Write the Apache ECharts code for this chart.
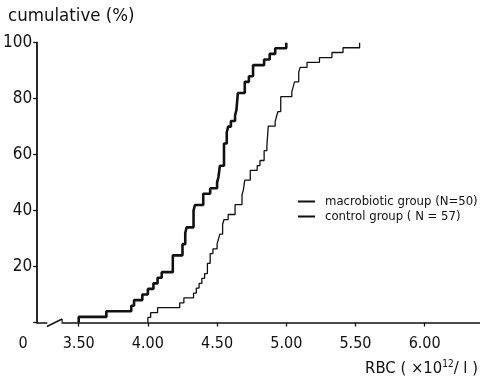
<!DOCTYPE html>
<html>
<head>
<meta charset="utf-8">
<script src="https://cdn.jsdelivr.net/npm/echarts@6/dist/echarts.min.js"></script>
<style>
  html, body { margin: 0; padding: 0; background: #fff; }
  #chart { width: 480px; height: 383px; }
</style>
</head>
<body>
<div id="chart"></div>
<script>
// Red blood cell counts (x10^12/l) at which each cumulative step occurs,
// with the cumulative percentage reached at that step.
const rbcMacro = [3.50, 3.70, 3.88, 3.90, 3.96, 4.00, 4.04, 4.07, 4.10, 4.18, 4.25, 4.27, 4.28,
  4.33, 4.34, 4.40, 4.45, 4.50, 4.51, 4.52, 4.55, 4.57, 4.58, 4.60, 4.63, 4.64, 4.65, 4.70,
  4.73, 4.76, 4.84, 4.88, 4.92, 5.00];
const cumMacro = [2, 4, 6, 8, 10, 12, 14, 16, 18, 24, 28, 32, 34,
  40, 42, 46, 48, 50, 52, 56, 64, 68, 70, 72, 74, 76, 82, 86,
  88, 92, 94, 96, 98, 100];

const rbcControl = [4.00, 4.02, 4.07, 4.23, 4.26, 4.33, 4.35, 4.37, 4.39, 4.41, 4.43, 4.45, 4.47,
  4.50, 4.51, 4.52, 4.54, 4.55, 4.58, 4.63, 4.68, 4.69, 4.70, 4.74, 4.79, 4.81, 4.84, 4.86,
  4.87, 4.92, 4.93, 4.94, 4.96, 5.04, 5.05, 5.06, 5.09, 5.10, 5.15, 5.24, 5.33, 5.41, 5.53];
const cumControl = [1.8, 3.5, 5.3, 7.0, 8.8, 10.5, 12.3, 14.0, 15.8, 17.5, 21.1, 24.6, 26.3,
  28.1, 29.8, 31.6, 35.1, 36.8, 38.6, 42.1, 45.6, 47.4, 50.9, 54.4, 56.1, 57.9, 61.4, 63.2,
  70.2, 71.9, 73.7, 75.4, 80.7, 82.5, 84.2, 86.0, 89.5, 91.2, 93.0, 94.7, 96.5, 98.2, 100];

const xTicks = [3.50, 4.00, 4.50, 5.00, 5.50, 6.00];
const yTicks = [0, 20, 40, 60, 80, 100];

const seriesNames = ['macrobiotic group (N=50)', 'control group ( N = 57)'];

const FONT = "'Liberation Sans Narrow', 'DejaVu Sans Condensed', 'Roboto Condensed', 'Liberation Sans', sans-serif";
const INK = '#111';

function stepData(xs, ys) {
  const pts = [[xs[0], 0]];
  for (let i = 0; i < xs.length; i++) pts.push([xs[i], ys[i]]);
  return pts;
}

const chart = echarts.init(document.getElementById('chart'), null, { renderer: 'canvas' });

chart.setOption({
  animation: false,
  backgroundColor: '#fff',
  textStyle: { fontFamily: FONT, color: INK },
  grid: { left: 35, right: 0, top: 42.7, bottom: 60.5 },
  legend: {
    orient: 'vertical',
    left: 293,
    top: 190,
    itemWidth: 17,
    itemHeight: 2,
    itemGap: 2,
    icon: 'rect',
    data: seriesNames,
    textStyle: { fontFamily: FONT, fontSize: 13, color: INK, padding: [0, 0, 0, 5] }
  },
  xAxis: {
    type: 'value',
    min: 3.2,
    max: 6.4,
    splitLine: { show: false },
    axisLine: { show: true, onZero: false, lineStyle: { color: INK, width: 1.6 } },
    axisTick: { show: true, length: 4, customValues: xTicks, lineStyle: { color: INK, width: 1.3 } },
    axisLabel: {
      customValues: xTicks,
      formatter: v => v.toFixed(2),
      margin: 13,
      fontFamily: FONT,
      fontSize: 16,
      color: INK
    }
  },
  yAxis: {
    type: 'value',
    min: 0,
    max: 100,
    interval: 20,
    splitLine: { show: false },
    axisLine: { show: true, lineStyle: { color: INK, width: 1.8 } },
    axisTick: { show: true, length: 4, customValues: yTicks, lineStyle: { color: INK, width: 1.3 } },
    axisLabel: {
      customValues: yTicks.filter(v => v > 0),
      margin: 5,
      fontFamily: FONT,
      fontSize: 17,
      color: INK
    }
  },
  series: [
    {
      name: seriesNames[0],
      type: 'line',
      step: 'end',
      showSymbol: false,
      data: stepData(rbcMacro, cumMacro),
      lineStyle: { color: INK, width: 2.6 },
      itemStyle: { color: INK },
      z: 3
    },
    {
      name: seriesNames[1],
      type: 'line',
      step: 'end',
      showSymbol: false,
      data: stepData(rbcControl, cumControl),
      lineStyle: { color: INK, width: 1.3 },
      itemStyle: { color: INK },
      z: 3
    }
  ]
});

// Axis break between the origin and 3.50, plus titles.
const y0 = chart.convertToPixel({ gridIndex: 0 }, [3.5, 0])[1];
const xa = chart.convertToPixel({ gridIndex: 0 }, [3.27, 0])[0];
const xb = chart.convertToPixel({ gridIndex: 0 }, [3.38, 0])[0];
const xOrigin = chart.convertToPixel({ gridIndex: 0 }, [3.2, 0])[0];

chart.setOption({
  graphic: [
    {
      type: 'rect',
      shape: { x: xa + 0.5, y: y0 - 3, width: xb - xa - 1, height: 6 },
      style: { fill: '#fff' },
      z: 10
    },
    {
      type: 'line',
      shape: { x1: xa, y1: y0 + 4, x2: xb, y2: y0 - 3.5 },
      style: { stroke: INK, lineWidth: 1.4 },
      z: 11
    },
    {
      type: 'line',
      shape: { x1: xb, y1: y0 - 3.5, x2: xb, y2: y0 },
      style: { stroke: INK, lineWidth: 1.2 },
      z: 11
    },
    {
      type: 'text',
      x: xOrigin - 14,
      y: y0 + 13,
      style: { text: '0', font: '16px ' + FONT, fill: INK, align: 'center' },
      z: 11
    },
    {
      type: 'text',
      x: 8,
      y: 7,
      style: { text: 'cumulative (%)', font: '18.5px ' + FONT, fill: INK },
      z: 11
    },
    {
      type: 'text',
      right: 2,
      top: 359,
      style: {
        text: '{m|RBC ( ×10}{s|12}{m|/ l )}',
        fill: INK,
        rich: {
          m: { font: '16.5px ' + FONT, fill: INK, verticalAlign: 'bottom' },
          s: { font: '10px ' + FONT, fill: INK, verticalAlign: 'top', padding: [0, 0, 8, 0] }
        }
      },
      z: 11
    }
  ]
});
</script>
</body>
</html>
